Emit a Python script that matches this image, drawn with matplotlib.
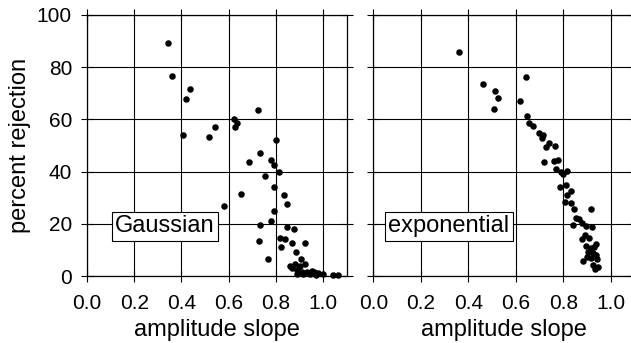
import matplotlib
matplotlib.use("Agg")
import matplotlib.pyplot as plt

plt.rcParams['font.family'] = ['Liberation Sans', 'DejaVu Sans']

# Gaussian panel: amplitude slope vs percent rejection
gauss_slope = [0.345, 0.362, 0.435, 0.418, 0.408, 0.515, 0.542, 0.621, 0.634, 0.628,
               0.726, 0.800, 0.734, 0.685, 0.780, 0.791, 0.814, 0.754, 0.791, 0.835,
               0.651, 0.847, 0.580, 0.791, 0.780, 0.734, 0.849, 0.877, 0.818, 0.839,
               0.869, 0.922, 0.730, 0.820, 0.884, 0.766, 0.908, 0.860, 0.881, 0.901,
               0.924, 0.888, 0.912, 0.933, 0.952, 0.962, 0.980, 1.001, 1.044, 1.062,
               0.890, 0.916, 0.945, 0.970, 0.870]
gauss_rej = [89.1, 76.6, 71.6, 67.7, 54.0, 53.4, 57.2, 60.2, 58.5, 57.0,
             63.5, 52.1, 47.3, 43.7, 44.3, 42.4, 39.7, 38.3, 34.2, 31.0,
             31.3, 27.6, 26.7, 24.8, 20.9, 19.4, 18.7, 18.0, 14.7, 14.1,
             12.8, 12.5, 13.5, 11.2, 9.1, 6.5, 6.5, 3.9, 4.5, 3.9,
             4.5, 2.3, 1.6, 1.6, 2.0, 1.6, 1.0, 0.6, 0.4, 0.4,
             0.8, 0.8, 0.6, 0.5, 3.0]

# exponential panel
expo_slope = [0.359, 0.463, 0.514, 0.524, 0.510, 0.642, 0.619, 0.646, 0.656, 0.674,
              0.698, 0.716, 0.712, 0.740, 0.729, 0.764, 0.721, 0.761, 0.778, 0.768,
              0.792, 0.814, 0.800, 0.785, 0.810, 0.835, 0.817, 0.809, 0.835, 0.847,
              0.917, 0.854, 0.868, 0.840, 0.878, 0.894, 0.922, 0.890, 0.880, 0.907,
              0.937, 0.897, 0.916, 0.931, 0.903, 0.924, 0.937, 0.885, 0.918, 0.941,
              0.927, 0.948, 0.934, 0.900]
expo_rej = [85.7, 73.6, 71.0, 68.2, 63.9, 76.2, 67.0, 61.4, 58.7, 57.5,
            54.7, 54.0, 53.0, 51.1, 49.4, 49.7, 43.7, 44.1, 44.4, 41.1,
            39.8, 40.1, 39.1, 34.2, 34.9, 32.7, 31.2, 28.5, 28.1, 25.8,
            25.8, 22.4, 22.0, 19.7, 20.2, 19.2, 18.6, 15.6, 14.3, 14.6,
            12.4, 11.6, 10.6, 11.1, 9.2, 8.7, 8.0, 5.6, 6.8, 6.4,
            4.2, 3.3, 2.6, 7.4]

x_ticks = [0.0, 0.2, 0.4, 0.6, 0.8, 1.0]
y_ticks = [0, 20, 40, 60, 80, 100]

fig = plt.figure(figsize=(6.31, 3.43), dpi=100)
ax1 = fig.add_axes([87 / 631, 1 - 276 / 343, 259.6 / 631, 261 / 343])
ax2 = fig.add_axes([373.3 / 631, 1 - 276 / 343, 261.1 / 631, 261 / 343])

paneles = [(ax1, gauss_slope, gauss_rej, "Gaussian", 0.119),
           (ax2, expo_slope, expo_rej, "exponential", 0.063)]

for ax, xs, ys, nombre, x_txt in paneles:
    ax.grid(True, color='black', linewidth=0.8)
    ax.set_axisbelow(True)
    ax.scatter(xs, ys, s=22, color='black', linewidths=0, zorder=3, clip_on=False)
    ax.set_xlim(0, 1.1)
    ax.set_ylim(0, 100)
    ax.set_xticks(x_ticks)
    ax.set_xticklabels([f"{v:.1f}" for v in x_ticks])
    ax.set_yticks(y_ticks)
    ax.tick_params(direction='inout', length=8.6, width=0.8, labelsize=15,
                   top=True, right=True)
    ax.tick_params(axis='x', pad=9)
    ax.tick_params(axis='y', pad=6.5)
    for sp in ax.spines.values():
        sp.set_linewidth(0.9)
    ax.set_xlabel("amplitude slope", fontsize=17, labelpad=4)
    ax.text(x_txt, 16.7, nombre, fontsize=17, ha='left', va='baseline', zorder=2,
            bbox=dict(boxstyle='square,pad=0.15', facecolor='white',
                      edgecolor='black', linewidth=0.8))

ax1.set_ylabel("percent rejection", fontsize=17, labelpad=4)
ax2.set_yticklabels([])

fig.savefig("out.png", dpi=100)
